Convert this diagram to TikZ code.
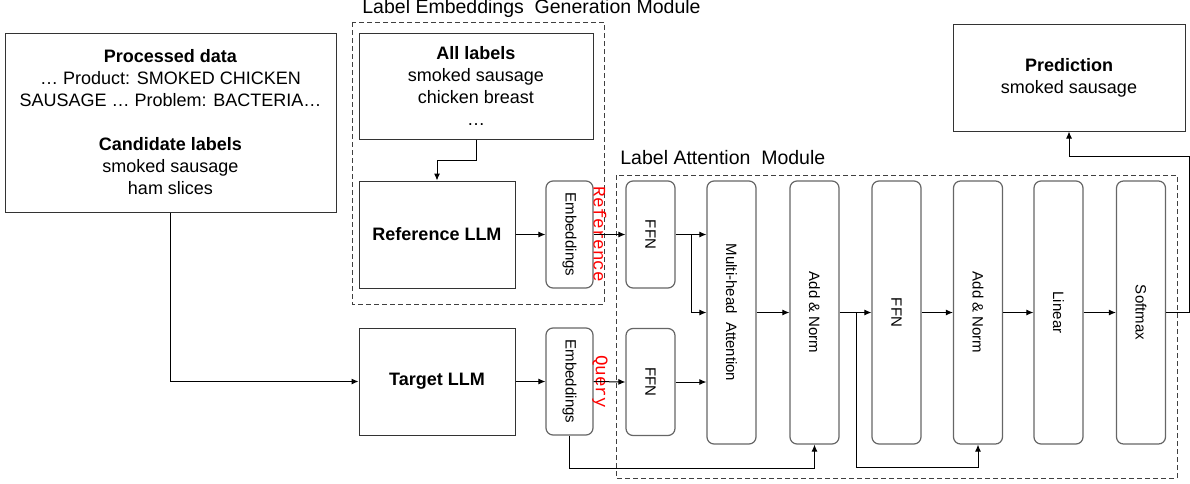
\documentclass[tikz,border=0pt]{standalone}
\usepackage{fontspec}
\setmainfont{Liberation Sans}
\newfontfamily\monofont{Liberation Mono}
\usetikzlibrary{arrows.meta, positioning}
\newcommand{\vtext}[1]{\rotatebox{-90}{#1}}
\tikzset{%
	plain box/.style={
		draw=black!80,
		line width=0.5pt,
		align=center,
		inner sep=0pt,
		font=\fontsize{9}{11}\selectfont
	},
	layer box/.style={
		draw=black!60,
		line width=0.6pt,
		rounded corners=3.5pt,
		minimum width=24.5pt,
		inner sep=0pt,
		font=\fontsize{7.5}{9}\selectfont
	},
	module frame/.style={
		draw=black!75,
		dash pattern=on 2.5pt off 1.5pt,
		line width=0.5pt
	},
}

\begin{document}
\begin{tikzpicture}[
			x=0.5pt, y=-0.5pt,
			arr/.style={draw, line width=0.5pt, -{Latex[length=3.5pt, width=3pt]}},
			title/.style={anchor=west, inner sep=0pt, font=\fontsize{9.75}{11}\selectfont},
			tag/.style={inner sep=0pt, text=red, font=\monofont\fontsize{8.8}{10}\selectfont}
			]
			\useasboundingbox (0,0) rectangle (1190,483);
			
			% Module frames
			\draw[module frame] (352,22) rectangle (604,304);
			\draw[module frame] (616,175) rectangle (1177,478);
			\node[title] (legtitle) at (362,8) {Label Embeddings\ \ Generation Module};
			\node[title] (lamtitle) at (620,158) {Label Attention\ \ Module};
			
			% Inputs and LLMs
			\node[plain box, minimum width=165.5pt, minimum height=89.5pt] (proc) at (170.5,122.5)
				{\textbf{Processed data}\\… Product: SMOKED CHICKEN\\SAUSAGE … Problem: BACTERIA…\\[11pt]
				 \textbf{Candidate labels}\\smoked sausage\\ham slices};
			\node[plain box, minimum width=117pt, minimum height=53pt] (alllab) at (476,86)
				{\textbf{All labels}\\smoked sausage\\chicken breast\\…};
			\node[plain box, minimum width=78pt, minimum height=53.5pt] (refllm) at (437,234.5) {\textbf{Reference LLM}};
			\node[plain box, minimum width=78pt, minimum height=53.5pt] (tgtllm) at (437,381.5) {\textbf{Target LLM}};
			\node[plain box, minimum width=116pt, minimum height=53.5pt] (pred) at (1069,77.5)
				{\textbf{Prediction}\\smoked sausage};
			
			% Embeddings
			\node[layer box, minimum width=23.5pt, minimum height=53.5pt] (emb1) at (569.5,234.5) {\vtext{Embeddings}};
			\node[layer box, minimum width=23.5pt, minimum height=53.5pt] (emb2) at (569.5,381.5) {\vtext{Embeddings}};
			\node[tag] (reftag) at (600,234.5) {\vtext{Reference}};
			\node[tag] (qtag) at (600,381.5) {\vtext{Query}};
			
			% Attention layers
			\node[layer box, minimum height=53.5pt] (ffn1) at (650.5,234.5) {\vtext{FFN}};
			\node[layer box, minimum height=53.5pt] (ffn2) at (650.5,382) {\vtext{FFN}};
			\node[layer box, minimum height=131.5pt] (mha) at (731.5,312.5) {\vtext{Multi-head\ \ Attention}};
			\node[layer box, minimum height=131.5pt] (an1) at (814.5,312.5) {\vtext{Add \& Norm}};
			\node[layer box, minimum height=131.5pt] (ffn3) at (896.5,312.5) {\vtext{FFN}};
			\node[layer box, minimum height=131.5pt] (an2) at (978,312.5) {\vtext{Add \& Norm}};
			\node[layer box, minimum height=131.5pt] (lin) at (1058.5,312.5) {\vtext{Linear}};
			\node[layer box, minimum height=131.5pt] (soft) at (1141,312.5) {\vtext{Softmax}};
			
			% Connectors
			\draw[arr] (proc.south) |- (tgtllm.west);
			\draw[arr] (alllab.south) -- ++(0,21) -| (refllm.north);
			\draw[arr] (refllm) -- (emb1);
			\draw[arr] (tgtllm) -- (emb2);
			\draw[arr] (emb1.east) -- (ffn1.west);
			\draw[arr] (emb2.east) -- (ffn2.west);
			\draw[arr] (ffn1.east) -- (ffn1.east -| mha.west);
			\draw[arr] ([xshift=8pt]ffn1.east) |- (mha.west);
			\draw[arr] (ffn2.east) -- (ffn2.east -| mha.west);
			\draw[arr] (mha) -- (an1);
			\draw[arr] (an1) -- (ffn3);
			\draw[arr] ([xshift=8.5pt]an1.east) -- ++(0,154.5) -| (an2.south);
			\draw[arr] (emb2.south) -- ++(0,33) -| (an1.south);
			\draw[arr] (ffn3) -- (an2);
			\draw[arr] (an2) -- (lin);
			\draw[arr] (lin) -- (soft);
			\draw[arr] (soft.east) -- ++(23,0) -- ++(0,-156.5) -| (pred.south);
			
		\end{tikzpicture}
\end{document}
